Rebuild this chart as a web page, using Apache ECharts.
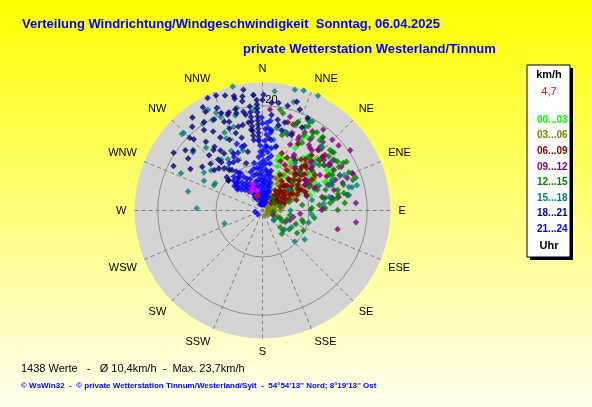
<!DOCTYPE html>
<html>
<head>
<meta charset="utf-8">
<script src="https://cdn.jsdelivr.net/npm/echarts@6/dist/echarts.min.js"></script>
<style>
  html, body { margin: 0; padding: 0; }
  #chart { width: 592px; height: 407px; }
</style>
</head>
<body>
<div id="chart"></div>
<script>
// Windrose Westerland/Tinnum, 06.04.2025 - points are [km/h, direction in degrees]
var dirLabels = ['N', 'NNE', 'NE', 'ENE', 'E', 'ESE', 'SE', 'SSE', 'S', 'SSW', 'SW', 'WSW', 'W', 'WNW', 'NW', 'NNW'];
var ringValues = [10, 20];
var ringLabels = [20];
var hourLabels = ['00...03', '03...06', '06...09', '09...12', '12...15', '15...18', '18...21', '21...24'];
var hourColors = ['#00ff00', '#808000', '#800000', '#800080', '#008000', '#008080', '#000080', '#0000ff'];

var valueCount = 1438;
var meanSpeed = '10,4';
var maxSpeed = '23,7';
var currentSpeed = '4,7';

// 00...03
var hour00_03 = [[16.2, 28.6], [15.1, 57.9], [16.1, 58.9], [12.5, 34.3], [11.6, 29.6], [9.2, 32.4], [14.1, 66.2], [9.2, 57.6],
  [11.1, 58.9], [11.8, 16.8], [11.6, 21.3], [12.8, 31.3], [13.0, 44.4], [14.6, 40.6], [8.0, 60.2], [8.7, 66.4], [11.6, 68.7],
  [14.8, 28.5], [14.6, 46], [15.3, 65], [10.0, 48.5], [10.0, 18.4], [6.3, 17.7], [6.7, 40.5], [16.7, 32.1], [15.4, 61],
  [12.0, 52], [13.5, 38], [10.5, 40], [7.5, 50], [12.2, 62], [9.0, 24],
  [14.1, 27.5], [12.1, 42.2], [12.2, 56.7], [13.8, 65.5], [11.1, 36.5], [8.9, 41], [14.0, 39.8], [8.7, 30.2], [8.9, 59.3],
  [10.6, 71.9], [11.0, 16]];
// 03...06
var hour03_06 = [[3.1, 30], [5.0, 31], [7.2, 29], [9.1, 30], [4.0, 35], [6.1, 36], [8.0, 34], [10.1, 35],
  [3.0, 40], [4.6, 41], [6.0, 39], [7.6, 40], [9.0, 41], [10.6, 40], [3.5, 45], [5.1, 44], [6.6, 46], [8.0, 45], [9.6, 44], [11.1, 46],
  [3.0, 50], [4.5, 51], [6.1, 49], [7.5, 50], [9.1, 51], [10.5, 49], [12.0, 50], [3.6, 55], [5.0, 56], [6.5, 54], [8.1, 55], [9.5, 56], [11.0, 54],
  [3.1, 60], [4.6, 61], [6.0, 59], [7.6, 60], [9.0, 61], [3.5, 65], [5.1, 64], [6.6, 66], [8.0, 65], [3.0, 70], [4.5, 71], [6.1, 69], [7.5, 70],
  [3.1, 80], [4.0, 81], [5.6, 79], [2.9, 90], [4.0, 91], [5.1, 89], [3.0, 100], [4.1, 101], [2.9, 110], [3.8, 111],
  [3.0, 20], [4.6, 21], [6.0, 19], [5.1, 25], [8.0, 26], [13.0, 42], [12.5, 58], [11.0, 33], [10.0, 68], [13.5, 48], [3.2, 130], [2.9, 160],
  [7.3, 4.7], [6.6, 16.4], [4.8, 19.5], [4.8, 50], [5.1, 72.6], [6.7, 55.4], [9.0, 3.5], [8.2, 8.8], [8.0, 21], [10.2, 50.1], [11.2, 54.4]];
// 06...09
var hour06_09 = [[5.0, 38], [7.1, 37], [9.0, 39], [11.1, 38], [13.0, 37], [4.5, 42], [6.0, 43], [7.6, 41], [9.0, 42], [10.5, 43], [12.1, 42],
  [5.1, 46], [6.5, 47], [8.0, 45], [9.6, 46], [11.0, 47], [12.5, 46], [14.0, 45], [4.0, 50], [5.6, 51], [7.0, 49], [8.5, 50], [10.1, 51], [11.5, 49], [13.0, 50],
  [5.0, 54], [6.6, 55], [8.0, 53], [9.5, 54], [11.1, 55], [4.5, 58], [6.0, 59], [7.5, 57], [9.1, 58], [10.5, 59], [12.0, 58],
  [5.1, 62], [6.5, 63], [8.0, 61], [9.6, 62], [5.5, 66], [7.0, 67], [8.6, 65], [10.0, 66], [6.0, 72], [8.1, 73], [10.0, 71],
  [6.1, 32], [8.0, 33], [10.1, 31], [17.8, 16], [15.9, 48.5], [15.0, 28], [14.5, 62], [13.5, 40], [12.0, 25], [11.0, 20],
  [6.6, 40.5], [7.8, 41.4], [9.0, 42.5], [10.3, 42], [11.5, 43], [12.7, 43.5], [7.4, 60.6], [9.3, 61.3], [11.3, 61.8], [8.8, 26.2],
  [10.7, 26.3], [12.3, 32.8], [12.9, 55.9], [15.1, 48.7], [14.7, 41.7], [5.4, 38.9], [16.4, 48.4], [11.0, 44.2], [12.4, 18.7]];
// 09...12
var hour09_12 = [[19.4, 4.3], [18.8, 16.4], [18.2, 21.5], [16.7, 34], [17.7, 41.4], [15.4, 39.3], [16.1, 42.5], [16.2, 54.9], [16.6, 65.4],
  [14.9, 68], [16.8, 79.6], [18.1, 85.4], [18.2, 97.1], [15.3, 104], [12.4, 87.6], [12.2, 66.7], [18.8, 68], [14.0, 79.5], [11.3, 58],
  [15.5, 37.2], [16.8, 42.2], [16.0, 56], [7.0, 109], [7.4, 102], [6.4, 117], [4.0, 113], [15.6, 26.7], [15.9, 48], [15.2, 54],
  [15.6, 67.2], [14.2, 79.8], [11.4, 36.8], [11.2, 48], [10.6, 59], [14.3, 22.8], [15.8, 18], [17.7, 19.6], [13.7, 44.4], [13.6, 58.3],
  [14.1, 68.7], [11.9, 66.8], [15.3, 79.9], [19.2, 49.5], [19.1, 44.6], [19.4, 36.9], [18.1, 32.2], [17.0, 54.4], [16.6, 70.9],
  [13.0, 50], [12.5, 30], [17.5, 61], [9.0, 45], [10.0, 72], [8.5, 95], [20.3, 55.5],
  [16.1, 26.4], [15.8, 35.4], [16.2, 43], [15.7, 50.6], [15.8, 55.6], [16.1, 60.5], [17.6, 69], [18.7, 67.3], [14.8, 74], [12.5, 77.2],
  [11.7, 66.4], [11.0, 54.3], [13.3, 48.7], [13.0, 29.6], [12.2, 89.5], [17.3, 28.4], [16.3, 20.8]];
// 12...15
var hour12_15 = [[19.1, 11.9], [19.4, 26.7], [18.4, 34.8], [18.3, 39.5], [17.6, 49.9], [17.1, 55.1], [18.1, 59.5], [18.4, 71.4], [16.2, 84.8],
  [15.3, 77.7], [13.7, 83.7], [9.0, 103.5], [9.1, 123.1], [6.9, 133.6], [5.3, 113.2], [4.5, 126.5], [6.8, 99.3], [10.2, 89.4],
  [17.9, 33.1], [17.6, 39.2], [16.8, 43.6], [14.7, 69.9], [15.4, 74.8], [13.0, 78.7], [4.9, 112.7], [6.2, 133.3], [9.3, 105.9],
  [3.8, 98], [10.5, 87], [12.7, 78.3], [14.3, 81.5], [16.6, 72.4], [14.9, 89.6], [13.4, 71.8], [12.8, 87.7], [12.1, 69.4],
  [17.4, 56.9], [16.7, 50.8], [15.0, 47.7], [12.9, 52.1], [11.2, 45], [4.8, 40], [5.1, 78.7], [18.5, 28.6], [18.3, 39.4],
  [17.8, 50.8], [15.1, 53], [15.5, 63], [19.6, 9.9], [16.1, 16], [15.5, 30.3], [19.5, 29.2], [18.4, 22.1], [18.7, 59.8],
  [18.2, 66.3], [19.0, 70.6], [16.9, 79.6], [5.8, 118], [6.5, 110], [7.6, 125], [8.2, 112], [7.2, 140], [9.8, 116], [11.0, 98],
  [17.2, 34], [17.6, 48.1], [17.1, 60.4], [16.3, 77.9], [11.8, 84.4], [8.9, 82], [6.8, 72.2], [4.4, 56.9], [17.7, 20.8], [18.1, 27],
  [14.1, 41.3], [14.5, 51.2], [15.0, 61.9], [15.0, 80.5], [8.9, 47], [10.9, 63.2], [16.8, 28.8], [15.4, 14.5]];
// 15...18
var hour15_18 = [[23.9, 346.5], [21.9, 355.5], [21.7, 331.6], [20.1, 325.5], [21.1, 313.5], [17.6, 310], [16.5, 318], [17.4, 294.5],
  [15.2, 284.4], [13.3, 272], [11.4, 300], [8.9, 251], [14.0, 303], [12.6, 326], [19.8, 331], [19.6, 336], [20.2, 346], [19.0, 344],
  [22.6, 5.8], [23.5, 15], [23.8, 18.9], [23.9, 25.8], [21.4, 16], [17.3, 66.6], [17.9, 75.5], [17.1, 80], [14.3, 69.3], [14.1, 48],
  [16.4, 9.7], [14.3, 9], [9.7, 134], [10.8, 124.6], [7.8, 120], [7.0, 131], [10.2, 104.6], [12.6, 83.5], [15.0, 66.5], [4.6, 132],
  [6.8, 90], [10.5, 94.7], [12.9, 342], [15.9, 333.4], [13.6, 332.3], [13.3, 321], [13.2, 308], [21.0, 314.6], [13.3, 297],
  [11.4, 297.5], [11.4, 321], [16.9, 334], [17.2, 341], [19.4, 355.4], [20.6, 334.6], [12.6, 66], [19.3, 28], [18.8, 75],
  [17.0, 43.1], [16.6, 65.4], [17.4, 74.8], [16.0, 17.5], [13.1, 11.1], [11.9, 34.4], [10.7, 78], [13.7, 78.5], [7.8, 52.3], [5.7, 17.6]];
// 18...21
var hour18_21 = [[23.3, 338], [22.3, 346], [21.9, 350], [21.1, 349.5], [21.9, 355.5], [21.9, 0.5],
  [21.0, 357], [20.3, 357], [19.6, 357], [18.9, 357], [18.2, 357], [17.5, 357], [16.8, 357], [16.1, 357], [15.4, 357], [14.7, 357], [14.0, 357],
  [20.0, 353], [19.0, 353], [18.2, 353], [17.4, 353], [16.6, 353], [15.8, 353], [15.0, 353], [14.2, 353],
  [21.6, 330], [20.2, 326.6], [19.1, 324], [19.7, 332], [20.2, 337], [18.6, 336.6], [18.3, 339.4], [19.3, 345], [19.3, 349], [18.7, 350],
  [17.1, 347], [17.3, 351], [19.0, 316], [19.7, 315], [17.3, 320.5], [15.4, 321], [15.7, 323], [14.6, 325], [13.8, 326], [12.9, 319.5],
  [20.2, 303], [19.1, 296.6], [16.1, 341], [15.4, 335], [15.0, 344], [13.6, 344.5], [12.4, 346], [9.8, 311], [7.7, 312.5], [8.5, 316],
  [10.7, 323], [11.7, 329], [12.4, 314], [12.8, 310], [17.6, 305], [21.3, 336], [19.8, 341], [21.8, 346], [23.5, 334], [17.8, 311],
  [13.6, 319], [11.0, 320.5], [8.9, 323], [9.8, 312], [9.6, 328], [20.6, 4.8], [20.7, 8.5], [20.5, 13.5], [20.5, 20.3], [19.7, 26],
  [18.5, 5.4], [17.8, 9.5], [17.6, 14.2], [17.8, 25.4], [15.9, 21], [21.6, 17.5], [15.9, 6.4], [16.9, 10.7], [16.2, 13.4], [21.0, 0],
  [14.5, 5], [13.3, 12], [11.6, 334], [10.6, 341],
  [22.5, 330], [20.8, 320], [18.0, 328], [16.5, 330], [15.2, 316], [14.0, 312], [13.0, 333], [17.0, 344], [22.8, 342], [18.8, 308],
  [16.3, 300], [14.8, 306], [20.0, 345], [11.8, 318], [10.4, 313], [22.0, 323], [23.0, 351], [16.0, 352], [17.2, 338], [19.5, 340]];
// 21...24
var hour21_24 = [[3.2, 340], [4.4, 342], [5.6, 338], [6.7, 341], [7.8, 339], [8.9, 343],
  [3.0, 347], [4.1, 346], [5.1, 348], [6.0, 345], [7.1, 347], [8.2, 346], [9.3, 348],
  [3.4, 352], [4.3, 351], [5.3, 353], [6.4, 350], [7.3, 352], [8.4, 351], [9.4, 353], [10.3, 350],
  [3.1, 356], [4.0, 357], [5.2, 355], [6.1, 356], [7.2, 357], [8.1, 355], [9.1, 356], [10.1, 357], [11.2, 356],
  [3.6, 0], [4.6, 1], [5.4, 359], [6.6, 0], [7.6, 1], [8.5, 359], [9.6, 0], [10.6, 1], [11.6, 0], [12.4, 1],
  [3.0, 5], [4.1, 4], [5.0, 6], [6.1, 5], [7.0, 4], [8.1, 6], [9.0, 5], [10.1, 4], [11.0, 6], [12.1, 5], [13.0, 4],
  [3.5, 10], [4.6, 11], [5.5, 9], [6.6, 10], [7.4, 11], [8.6, 10], [3.1, 15], [4.0, 16], [5.1, 14], [6.2, 15], [7.0, 16],
  [3.6, 20], [4.5, 21], [5.4, 19], [4.1, 335], [5.0, 334], [6.1, 336], [7.0, 335], [8.1, 334],
  [4.6, 330], [5.5, 331], [6.6, 329], [7.5, 330], [8.6, 331], [9.4, 330], [6.0, 325], [7.1, 326], [8.0, 324], [9.1, 325], [10.1, 326],
  [6.6, 320], [7.5, 321], [8.4, 319], [9.6, 320], [7.1, 315], [8.0, 314], [9.1, 316], [7.6, 310], [8.4, 311],
  [13.1, 3], [14.0, 2], [15.1, 3], [16.0, 2], [17.1, 3], [12.1, 358], [13.2, 358], [14.1, 357],
  [18.0, 359.5], [17.0, 0], [16.2, 4], [14.3, 339], [11.9, 325], [12.4, 332], [12.8, 337], [13.5, 342], [3.0, 230], [3.3, 260],
  [15.5, 6], [14.2, 7], [12.8, 8], [11.5, 9], [10.2, 9], [9.0, 12], [8.0, 14], [17.5, 5]];
// last hour and current value
var lastHour = [[6.2, 336], [5.8, 330], [6.8, 340], [5.5, 345]];
var currentValue = [[4.7, 340]];

var hourData = [hour00_03, hour03_06, hour06_09, hour09_12, hour12_15, hour15_18, hour18_21, hour21_24];

var font = 'Liberation Sans, Arial, sans-serif';
var center = ['44.34%', '51.72%'];
var plotRadius = 128;
var radiusMin = 2, radiusMax = 24, radiusStep = 2;
var chart = echarts.init(document.getElementById('chart'));

// one colour per radius tick (2, 4, ... 24): only the 10 and 20 km/h rings are visible
// (dashed circles did not render, so the rings are solid)
var ringColors = [];
for (var v = radiusMin; v <= radiusMax; v += radiusStep) {
  ringColors.push(ringValues.indexOf(v) >= 0 ? '#8c8c8c' : 'rgba(0,0,0,0)');
}

var series = hourData.map(function (d, i) {
  return {
    name: hourLabels[i],
    type: 'scatter',
    coordinateSystem: 'polar',
    polarIndex: 1,
    symbol: 'diamond',
    symbolSize: 6.5,
    itemStyle: { color: hourColors[i] },
    data: d
  };
});
series.push({
  name: 'letzte Stunde', type: 'scatter', coordinateSystem: 'polar', polarIndex: 1, symbol: 'diamond', symbolSize: 6.5,
  itemStyle: { color: '#ff00ff' }, data: lastHour
});
series.push({
  name: currentSpeed, type: 'scatter', coordinateSystem: 'polar', polarIndex: 1, symbol: 'diamond', symbolSize: 7,
  itemStyle: { color: '#ff0000' }, data: currentValue
});

var option = {
  animation: false,
  backgroundColor: {
    type: 'linear', x: 0, y: 0, x2: 0, y2: 1,
    colorStops: [{ offset: 0, color: '#ffff00' }, { offset: 1, color: '#fffff0' }]
  },
  title: [
    {
      text: 'Verteilung Windrichtung/Windgeschwindigkeit  Sonntag, 06.04.2025',
      left: 22, top: 18, padding: 0,
      textStyle: { color: '#0000ff', fontSize: 13, fontWeight: 'bold', fontFamily: font }
    },
    {
      text: 'private Wetterstation Westerland/Tinnum',
      left: 243, top: 43, padding: 0,
      textStyle: { color: '#0000ff', fontSize: 13, fontWeight: 'bold', fontFamily: font }
    },
    {
      text: valueCount + ' Werte   -   Ø ' + meanSpeed + 'km/h  -  Max. ' + maxSpeed + 'km/h',
      left: 21, top: 363, padding: 0,
      textStyle: { color: '#000000', fontSize: 11, fontWeight: 'normal', fontFamily: font }
    },
    {
      text: '© WsWin32  -  © private Wetterstation Tinnum/Westerland/Sylt  -  54°54\'13\'\' Nord; 8°19\'13\'\' Ost',
      left: 21, top: 382, padding: 0,
      textStyle: { color: '#0000ff', fontSize: 8, fontWeight: 'bold', fontFamily: font }
    }
  ],
  legend: {
    orient: 'vertical',
    left: 532, top: 115, padding: 0,
    icon: 'none', itemWidth: 0, itemHeight: 10, itemGap: 5.6,
    selectedMode: false,
    textStyle: { fontSize: 10, fontWeight: 'bold', fontFamily: font },
    data: hourLabels.map(function (h, i) {
      return { name: h, textStyle: { color: hourColors[i] } };
    })
  },
  // polar 0: grey disc on its own layer underneath, polar 1: grid, labels and points
  polar: [
    { center: center, radius: plotRadius },
    { center: center, radius: plotRadius }
  ],
  angleAxis: [
    {
      polarIndex: 0, zlevel: -1, z: 0,
      type: 'value', min: 0, max: 360, interval: 22.5, startAngle: 90, clockwise: true,
      axisLine: { show: false }, axisTick: { show: false }, axisLabel: { show: false },
      splitLine: { show: false },
      splitArea: { show: true, areaStyle: { color: ['#d4d4d4'] } }
    },
    {
      polarIndex: 1, z: 1,
      type: 'value', min: 0, max: 360, interval: 22.5, startAngle: 90, clockwise: true,
      axisLine: { show: false },
      axisTick: { show: false },
      axisLabel: {
        margin: 8, color: '#000', fontSize: 11, fontFamily: font,
        formatter: function (v) { return dirLabels[Math.round(v / 22.5) % 16]; }
      },
      splitLine: { show: true, lineStyle: { color: '#808080', type: [4, 3], width: 1 } },
      splitArea: { show: false }
    }
  ],
  radiusAxis: [
    {
      polarIndex: 0, zlevel: -1, z: 0, type: 'value', min: radiusMin, max: radiusMax,
      axisLine: { show: false }, axisTick: { show: false }, axisLabel: { show: false }, splitLine: { show: false }
    },
    {
      polarIndex: 1, z: 1, type: 'value', min: radiusMin, max: radiusMax, interval: radiusStep,
      axisLine: { show: false },
      axisTick: { show: false },
      axisLabel: {
        margin: -15, verticalAlign: 'bottom',
        color: '#000', fontSize: 11, fontFamily: font,
        formatter: function (v) { return ringLabels.indexOf(v) >= 0 ? String(v) : ''; }
      },
      splitLine: { show: true, lineStyle: { color: ringColors, width: 1 } }
    }
  ],
  graphic: [
    { type: 'rect', shape: { x: 530, y: 68, width: 43, height: 192 }, style: { fill: '#000000' }, z: 0 },
    { type: 'rect', shape: { x: 527, y: 65, width: 43, height: 192 }, style: { fill: '#ffffff', stroke: '#000000', lineWidth: 1 }, z: 1 },
    { type: 'text', x: 549, y: 75, z: 2, style: { text: 'km/h', fill: '#000', font: 'bold 11px ' + font, align: 'center', verticalAlign: 'middle' } },
    { type: 'text', x: 549, y: 92, z: 2, style: { text: currentSpeed, fill: '#ff0000', font: '11px ' + font, align: 'center', verticalAlign: 'middle' } },
    { type: 'text', x: 549, y: 246, z: 2, style: { text: 'Uhr', fill: '#000', font: 'bold 11px ' + font, align: 'center', verticalAlign: 'middle' } }
  ],
  series: series
};
chart.setOption(option);
</script>
</body>
</html>
